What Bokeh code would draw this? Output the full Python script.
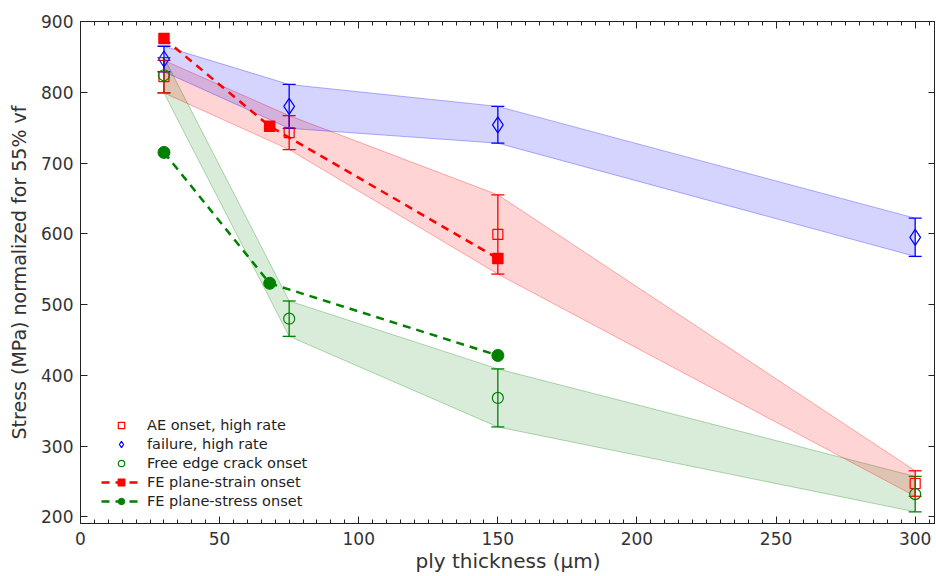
from bokeh.plotting import figure
from bokeh.models import (Range1d, LinearAxis, SingleIntervalTicker, Whisker,
                          ColumnDataSource, Legend, LegendItem, TeeHead)
from bokeh.embed import file_html
from bokeh.resources import INLINE

# ---- data ----
ply_thickness = [30, 75, 150, 300]
ae_onset = [822, 743, 599, 247]
ae_onset_err = [23, 24, 56, 18]
failure = [847, 780, 754, 595]
failure_err = [18, 31, 26, 27]
free_edge = [824, 480, 368, 232]
free_edge_err = [25, 25, 41, 25]

fe_thickness = [30, 68, 150]
fe_plane_strain = [876, 752, 565]
fe_plane_stress = [715, 530, 428]

RED = "#ff0000"
BLUE = "#0000ff"
GREEN = "#008000"
FONT = "DejaVu Sans"
AXC = "#222222"

p = figure(width=935, height=576, output_backend="svg", toolbar_location=None,
           x_range=Range1d(0, 307.3), y_range=Range1d(190.5, 900),
           min_border_left=80, min_border_top=21, min_border_bottom=53, min_border_right=0)
p.xgrid.visible = False
p.ygrid.visible = False
p.outline_line_color = AXC
p.background_fill_color = "white"
p.border_fill_color = "white"

xt = SingleIntervalTicker(interval=50, num_minor_ticks=10)
yt = SingleIntervalTicker(interval=100, num_minor_ticks=0)

for ax, tk in ((p.xaxis[0], xt), (p.yaxis[0], yt)):
    ax.ticker = tk
    ax.major_tick_in = 7
    ax.major_tick_out = 0
    ax.minor_tick_in = 4
    ax.minor_tick_out = 0
    ax.axis_line_color = AXC
    ax.major_tick_line_color = AXC
    ax.minor_tick_line_color = AXC
    ax.major_label_text_font = FONT
    ax.major_label_text_font_size = "17px"
    ax.major_label_text_color = "#333333"
    ax.axis_label_text_font = FONT
    ax.axis_label_text_font_style = "normal"
    ax.axis_label_text_color = "#333333"

p.xaxis.major_label_standoff = 8
p.yaxis.major_label_standoff = 7
p.xaxis.axis_label = "ply thickness (μm)"
p.xaxis.axis_label_text_font_size = "20px"
p.xaxis.axis_label_standoff = 1
p.yaxis.axis_label = "Stress (MPa) normalized for 55% vf"
p.yaxis.axis_label_text_font_size = "19px"
p.yaxis.axis_label_standoff = 8

for loc, tk in (("above", xt), ("right", yt)):
    ax = LinearAxis(ticker=tk, major_tick_in=7, major_tick_out=0, minor_tick_in=4,
                    minor_tick_out=0, axis_line_color=AXC, major_tick_line_color=AXC,
                    minor_tick_line_color=AXC, major_label_text_font_size="1px",
                    major_label_text_color=None, major_label_standoff=0)
    p.add_layout(ax, loc)


def band(y, err, color, alpha):
    up = [a + b for a, b in zip(y, err)]
    lo = [a - b for a, b in zip(y, err)]
    p.varea(x=ply_thickness, y1=lo, y2=up, fill_color=color, fill_alpha=alpha)
    p.line(ply_thickness, up, line_color=color, line_alpha=0.3, line_width=1)
    p.line(ply_thickness, lo, line_color=color, line_alpha=0.3, line_width=1)
    src = ColumnDataSource(dict(x=ply_thickness, upper=up, lower=lo))
    w = Whisker(source=src, base="x", upper="upper", lower="lower", dimension="height",
                line_color=color, line_width=1.3,
                upper_head=TeeHead(size=13, line_color=color, line_width=1.3),
                lower_head=TeeHead(size=13, line_color=color, line_width=1.3))
    p.add_layout(w)


band(free_edge, free_edge_err, GREEN, 0.15)
band(ae_onset, ae_onset_err, RED, 0.17)
band(failure, failure_err, BLUE, 0.17)

# FE dashed lines
l_strain = p.line(fe_thickness, fe_plane_strain, line_color=RED, line_width=2.5, line_dash="8 6")
l_stress = p.line(fe_thickness, fe_plane_stress, line_color=GREEN, line_width=2.5, line_dash="8 6")

r_ae = p.scatter(ply_thickness, ae_onset, marker="square", size=10, fill_color=None,
                 line_color=RED, line_width=1.2)
r_fail = p.scatter(ply_thickness, failure, marker="diamond", size=16, fill_color=None,
                   line_color=BLUE, line_width=1.2)
r_fe = p.scatter(ply_thickness, free_edge, marker="circle", size=11, fill_color=None,
                 line_color=GREEN, line_width=1.2)
m_strain = p.scatter(fe_thickness, fe_plane_strain, marker="square", size=10,
                     fill_color=RED, line_color=RED, line_width=1.5, line_join="round")
m_stress = p.scatter(fe_thickness, fe_plane_stress, marker="circle", size=12,
                     fill_color=GREEN, line_color=GREEN)

legend = Legend(items=[
    LegendItem(label="AE onset, high rate", renderers=[r_ae]),
    LegendItem(label="failure, high rate", renderers=[r_fail]),
    LegendItem(label="Free edge crack onset", renderers=[r_fe]),
    LegendItem(label="FE plane-strain onset", renderers=[l_strain, m_strain]),
    LegendItem(label="FE plane-stress onset", renderers=[l_stress, m_stress]),
], location=(11, 4), margin=0, padding=10, spacing=3, glyph_width=40, glyph_height=16,
    label_height=16, label_standoff=6, label_text_font=FONT, label_text_font_size="14.5px",
    label_text_color="#222222", background_fill_alpha=0, border_line_alpha=0)
p.add_layout(legend)

open("out.html", "w").write(file_html(p, INLINE))
